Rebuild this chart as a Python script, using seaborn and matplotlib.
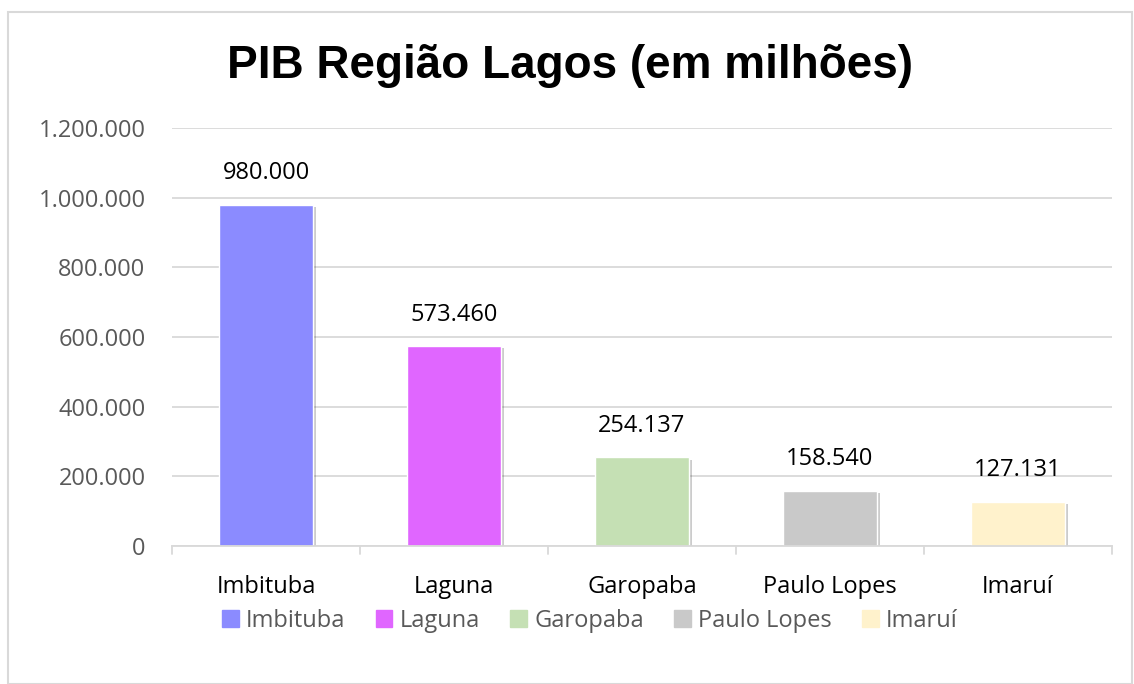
import matplotlib
matplotlib.use("Agg")
import matplotlib.pyplot as plt
import matplotlib.patches as mpatches
import matplotlib.patheffects as pe
import seaborn as sns
import pandas as pd

cities = ["Imbituba", "Laguna", "Garopaba", "Paulo Lopes", "Imaruí"]
pib = [980000, 573460, 254137, 158540, 127131]
colors = ["#8B8BFF", "#E066FF", "#C5E0B4", "#C9C9C9", "#FFF2CC"]
yticks = [0, 200000, 400000, 600000, 800000, 1000000, 1200000]


def fmt_br(v):
    return f"{v:,.0f}".replace(",", ".")


sns.set_style("white")
plt.rcParams["font.family"] = ["Open Sans", "DejaVu Sans"]

df = pd.DataFrame({"city": cities, "pib": pib})

fig = plt.figure(figsize=(11.34, 6.84), dpi=100)
ax = fig.add_axes([172 / 1134, 1 - 546 / 684, 940 / 1134, 418 / 684])

sns.barplot(data=df, x="city", y="pib", hue="city", palette=colors,
            width=0.505, legend=False, ax=ax, saturation=1)

for bar in ax.patches:
    bar.set_path_effects([pe.SimplePatchShadow(offset=(1.5, -1.5), shadow_rgbFace="#000000", alpha=0.2),
                          pe.Normal()])

for i, v in enumerate(pib):
    ax.text(i, v + 56000, fmt_br(v), ha="center", va="bottom", fontsize=17, color="#000000")

ax.set_ylim(0, 1200000)
ax.set_xlim(-0.5, 4.5)
ax.set_yticks(yticks)
ax.set_yticklabels([fmt_br(v) for v in yticks], fontsize=17, color="#595959")
ax.tick_params(axis="y", length=0, pad=19)
ax.set_xticks(range(5))
ax.set_xticklabels(cities, fontsize=17, color="#000000")
ax.tick_params(axis="x", length=0, pad=21)
ax.grid(axis="y", color="#D9D9D9", linewidth=1.3)
ax.set_axisbelow(True)
for s in ["top", "right", "left"]:
    ax.spines[s].set_visible(False)
ax.spines["bottom"].set_color("#D9D9D9")
ax.spines["bottom"].set_linewidth(1.3)
for b in [-0.5, 0.5, 1.5, 2.5, 3.5, 4.5]:
    ax.plot([b, b], [0, -0.02], transform=ax.get_xaxis_transform(), color="#D9D9D9",
            linewidth=1.3, clip_on=False)
ax.set_xlabel("")
ax.set_ylabel("")

fig.text(0.5 + 3 / 1134, 1 - 66 / 684, "PIB Região Lagos (em milhões)", ha="center", va="center",
         fontsize=33, fontweight="bold", family="Liberation Sans", color="#000000")

handles = [mpatches.Patch(color=c, label=n) for c, n in zip(colors, cities)]
leg = fig.legend(handles=handles, loc="center", bbox_to_anchor=(590 / 1134, 1 - 621 / 684), ncol=5,
                 frameon=False, fontsize=17, handlelength=0.7, handleheight=0.7,
                 handletextpad=0.3, columnspacing=1.3)
for t in leg.get_texts():
    t.set_color("#595959")

fig.patches.append(mpatches.Rectangle((8 / 1134, 0), 1 - 8 / 1134 - 2 / 1134, 1 - 12 / 684,
                                      transform=fig.transFigure, fill=False,
                                      edgecolor="#D9D9D9", linewidth=1.5))

fig.savefig("out.png", dpi=100)
